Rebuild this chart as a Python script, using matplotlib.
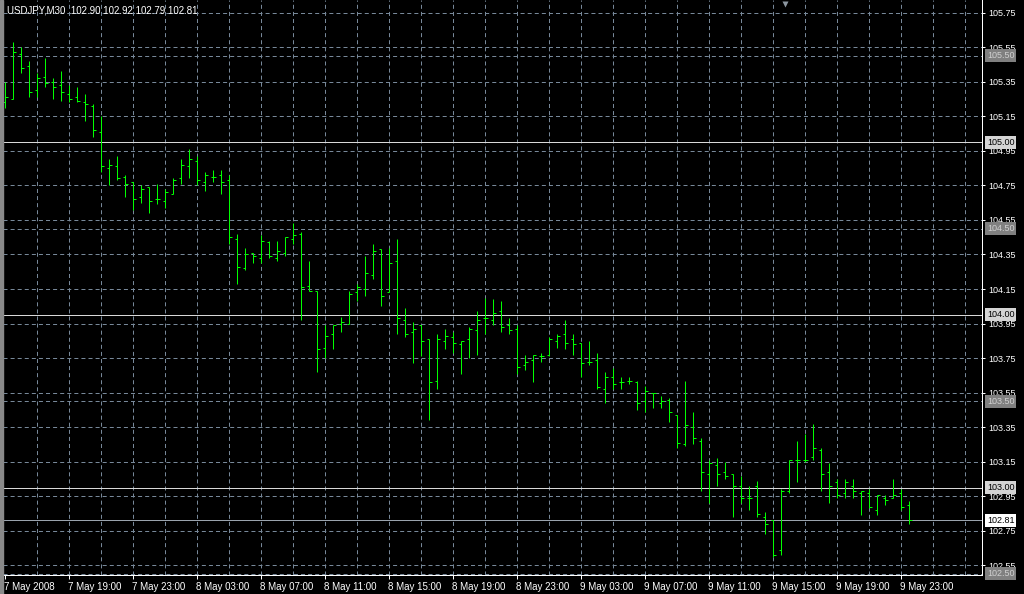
import numpy as np
import pandas as pd
import matplotlib
matplotlib.use("Agg")
import matplotlib.pyplot as plt
from matplotlib.transforms import offset_copy
from matplotlib.lines import Line2D
from matplotlib.patches import Rectangle

plt.rcParams['font.family'] = ['Liberation Sans', 'DejaVu Sans']
plt.rcParams['lines.scale_dashes'] = False

symbol = "USDJPY,M30"
start_time = "2008-05-07 15:00"

opens = [105.23, 105.25, 105.51, 105.44, 105.30, 105.38, 105.35, 105.33, 105.28, 105.26,
         105.23, 105.21, 105.06, 104.85, 104.86, 104.80, 104.77, 104.68, 104.74, 104.67,
         104.66, 104.70, 104.79, 104.86, 104.89, 104.77, 104.80, 104.81, 104.78, 104.44,
         104.27, 104.36, 104.33, 104.42, 104.33, 104.36, 104.44, 104.47, 104.17, 104.14,
         103.81, 103.89, 103.95, 103.95, 104.13, 104.15, 104.23, 104.38, 104.13, 104.31,
         103.97, 103.90, 103.94, 103.86, 103.62, 103.85, 103.87, 103.83, 103.86, 103.91,
         103.98, 103.97, 104.02, 103.94, 103.92, 103.71, 103.74, 103.76, 103.77, 103.85,
         103.89, 103.86, 103.84, 103.73, 103.74, 103.57, 103.64, 103.61, 103.62, 103.61,
         103.50, 103.55, 103.49, 103.51, 103.42, 103.25, 103.35, 103.27, 103.08, 103.13,
         103.09, 103.08, 103.01, 102.94, 103.01, 102.83, 102.81, 102.64, 102.98, 103.16,
         103.16, 103.18, 103.22, 103.09, 103.03, 102.97, 103.01, 102.97, 102.97, 102.87,
         102.94, 102.94, 102.97, 102.90]
highs = [105.35, 105.58, 105.55, 105.47, 105.40, 105.49, 105.37, 105.41, 105.33, 105.32,
         105.28, 105.22, 105.15, 104.90, 104.92, 104.81, 104.77, 104.75, 104.74, 104.76,
         104.73, 104.79, 104.90, 104.96, 104.92, 104.83, 104.84, 104.84, 104.81, 104.47,
         104.39, 104.36, 104.46, 104.43, 104.43, 104.45, 104.53, 104.48, 104.31, 104.14,
         103.94, 103.94, 103.99, 104.14, 104.18, 104.34, 104.41, 104.38, 104.39, 104.44,
         104.04, 103.96, 103.94, 103.86, 103.89, 103.92, 103.90, 103.85, 103.93, 104.02,
         104.10, 104.09, 104.08, 103.98, 103.94, 103.77, 103.77, 103.78, 103.87, 103.89,
         103.97, 103.89, 103.84, 103.85, 103.78, 103.67, 103.69, 103.64, 103.64, 103.62,
         103.59, 103.55, 103.53, 103.52, 103.42, 103.62, 103.44, 103.29, 103.16, 103.17,
         103.15, 103.08, 103.07, 103.01, 103.04, 102.86, 102.81, 102.99, 103.16, 103.27,
         103.31, 103.37, 103.23, 103.14, 103.05, 103.05, 103.05, 102.98, 102.99, 102.96,
         102.96, 103.05, 102.99, 102.92]
lows = [105.20, 105.25, 105.40, 105.26, 105.26, 105.32, 105.25, 105.24, 105.23, 105.23,
        105.12, 105.03, 104.83, 104.75, 104.78, 104.68, 104.61, 104.65, 104.59, 104.64,
        104.62, 104.70, 104.76, 104.79, 104.75, 104.72, 104.77, 104.70, 104.41, 104.18,
        104.26, 104.30, 104.30, 104.33, 104.31, 104.34, 104.41, 103.97, 104.14, 103.67,
        103.75, 103.80, 103.90, 103.95, 104.08, 104.11, 104.21, 104.05, 104.13, 103.89,
        103.87, 103.72, 103.76, 103.39, 103.57, 103.80, 103.78, 103.66, 103.75, 103.77,
        103.89, 103.94, 103.90, 103.89, 103.66, 103.68, 103.61, 103.73, 103.76, 103.81,
        103.80, 103.77, 103.64, 103.71, 103.57, 103.49, 103.57, 103.57, 103.60, 103.45,
        103.44, 103.46, 103.46, 103.38, 103.23, 103.24, 103.25, 102.98, 102.91, 103.01,
        103.05, 102.83, 102.91, 102.87, 102.83, 102.73, 102.60, 102.61, 102.97, 103.03,
        103.15, 103.16, 102.98, 102.91, 102.94, 102.94, 102.94, 102.84, 102.88, 102.84,
        102.90, 102.94, 102.87, 102.79]
closes = [105.26, 105.52, 105.43, 105.29, 105.37, 105.34, 105.32, 105.29, 105.25, 105.24,
          105.22, 105.07, 104.86, 104.87, 104.79, 104.76, 104.67, 104.73, 104.66, 104.67,
          104.71, 104.78, 104.87, 104.90, 104.78, 104.81, 104.80, 104.77, 104.45, 104.28,
          104.35, 104.34, 104.43, 104.34, 104.37, 104.45, 104.46, 104.16, 104.14, 103.80,
          103.88, 103.94, 103.96, 104.12, 104.16, 104.24, 104.37, 104.11, 104.30, 103.98,
          103.89, 103.92, 103.85, 103.61, 103.86, 103.88, 103.84, 103.85, 103.92, 103.97,
          103.98, 104.01, 103.93, 103.91, 103.70, 103.73, 103.77, 103.76, 103.86, 103.88,
          103.84, 103.83, 103.72, 103.73, 103.58, 103.64, 103.60, 103.61, 103.62, 103.49,
          103.56, 103.55, 103.50, 103.44, 103.26, 103.36, 103.29, 103.09, 103.14, 103.08,
          103.07, 103.01, 102.94, 102.94, 102.85, 102.79, 102.61, 102.98, 103.16, 103.16,
          103.16, 103.23, 103.08, 103.01, 102.96, 103.03, 102.98, 102.98, 102.89, 102.96,
          102.93, 102.96, 102.89, 102.81]

grid_levels = [105.75, 105.55, 105.35, 105.15, 104.95, 104.75, 104.55, 104.35, 104.15,
               103.95, 103.75, 103.55, 103.35, 103.15, 102.95, 102.75, 102.55]
half_levels = [105.50, 104.50, 103.50, 102.50]
round_levels = [105.00, 104.00, 103.00]
bid = closes[-1]

n = len(opens)
x = np.arange(n)
times = pd.date_range(start_time, periods=n, freq="30min")
label_idx = x[::8]
labels = []
for k in label_idx:
    t = times[k]
    if k == 0:
        labels.append(f"{t.day} {t:%b %Y}")
    else:
        labels.append(f"{t.day} {t:%b %H:%M}")

W, H = 1024, 594
fig = plt.figure(figsize=(W / 100, H / 100), dpi=100, facecolor="black")
ax = fig.add_axes([3 / W, (H - 575) / H, (982 - 3) / W, 575 / H])
ax.set_facecolor("black")

grid_col = "#778899"
green = "#00ff00"
px = 0.72

ax.set_xlim(-0.29, 122.1)
ax.set_ylim(102.494, 105.8235)

# grid
for g in grid_levels + half_levels:
    ax.axhline(g, color=grid_col, lw=px, ls=(0, (2.9, 2.2)), zorder=1)
for v in range(4, 121, 4):
    ax.axvline(v, color=grid_col, lw=px, ls=(0, (2.9, 2.2)), zorder=1)
for r in round_levels:
    ax.axhline(r, color="#d8d8d8", lw=px, zorder=2)
ax.axhline(bid, color="#9aa3ad", lw=px, zorder=2)

# OHLC bars
bar_lw = 0.72
bars = [
    ax.vlines(x, lows, highs, color=green, lw=bar_lw, zorder=3),
    ax.hlines(opens, x - 0.3, x, color=green, lw=bar_lw, zorder=3),
    ax.hlines(closes, x, x + 0.3, color=green, lw=bar_lw, zorder=3),
]
for b in bars:
    b.set_snap(True)

# axes styling
for s in ["left", "top"]:
    ax.spines[s].set_visible(False)
for s in ["right", "bottom"]:
    ax.spines[s].set_color("white")
    ax.spines[s].set_linewidth(px)

ax.yaxis.tick_right()
ax.set_yticks(grid_levels)
ax.set_yticklabels([f"{g:.2f}" for g in grid_levels])
ax.tick_params(axis="y", colors="white", length=2.3, width=px, pad=2.5, labelsize=6.5)

ax.set_xticks(label_idx)
ax.set_xticklabels(labels, ha="left")
ax.tick_params(axis="x", colors="white", length=3, width=px, pad=2, labelsize=7)
offset = matplotlib.transforms.ScaledTranslation(-1 / 100, 0, fig.dpi_scale_trans)
for lab in ax.get_xticklabels():
    lab.set_transform(lab.get_transform() + offset)

# price boxes on the scale, clipped at the bottom of the chart
clip_rect = Rectangle((982 / W, (H - 575) / H), 42 / W, 575 / H,
                      transform=fig.transFigure, fill=False, visible=False)
fig.add_artist(clip_rect)
box_tr = offset_copy(ax.get_yaxis_transform(), fig=fig, x=5, units="dots")


def price_box(level, fc, tc):
    t = ax.text(1.0, level, f"{level:.2f}", transform=box_tr, ha="left", va="center",
                fontsize=6.5, color=tc,
                bbox=dict(boxstyle="square,pad=0.22", fc=fc, ec="none"), zorder=5)
    t.set_clip_path(clip_rect)
    return t


for lv in half_levels:
    price_box(lv, "#808080", "#d0d0d0")
for lv in round_levels:
    price_box(lv, "#d4d4d4", "black")
price_box(bid, "white", "black")

# header
fig.text(7 / W, 1 - 10.5 / H,
         f"{symbol}  {opens[-1]:.2f} {highs[-1]:.2f} {lows[-1]:.2f} {closes[-1]:.2f}",
         color="white", fontsize=7, va="center", ha="left")

# window edge and shift marker
fig.add_artist(Rectangle((0, 0), 3 / W, 1, transform=fig.transFigure, color="#8a8a8a"))
fig.add_artist(Line2D([785 / W], [1 - 4 / H], marker="v", ms=5, color="#8c96a0",
                      mec="none", transform=fig.transFigure))

fig.savefig("out.png", dpi=100, facecolor="black")
